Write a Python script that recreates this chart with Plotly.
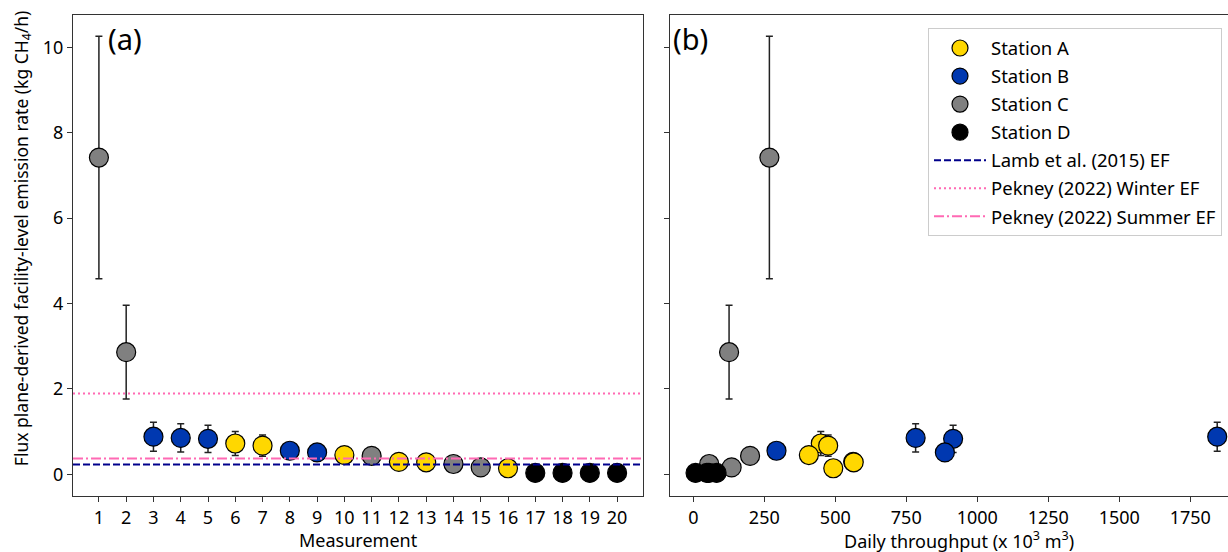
import plotly.graph_objects as go

# ---------------- data ----------------
measurement = list(range(1, 21))
station = ["C", "C", "B", "B", "B", "A", "A", "B", "B", "A",
           "C", "A", "A", "C", "C", "A", "D", "D", "D", "D"]
flux = [7.42, 2.86, 0.88, 0.85, 0.83, 0.72, 0.67, 0.55, 0.51, 0.45,
        0.43, 0.29, 0.28, 0.24, 0.16, 0.14, 0.03, 0.03, 0.03, 0.03]
flux_err = [2.84, 1.10, 0.34, 0.33, 0.32, 0.28, 0.25, 0.12, 0.20, 0.08,
            0.05, 0.08, 0.05, 0.05, 0.03, 0.03, 0.01, 0.01, 0.01, 0.01]
throughput = [268, 126, 1845, 783, 915, 449, 475, 293, 886, 407,
              200, 563, 565, 56, 135, 493, 8, 48, 55, 82]

station_names = ["A", "B", "C", "D"]
station_colors = {"A": "#FFD700", "B": "#0038B0", "C": "#808080", "D": "#000000"}

ef_names = ["Lamb et al. (2015) EF", "Pekney (2022) Winter EF", "Pekney (2022) Summer EF"]
ef_values = [0.23, 1.89, 0.37]
ef_colors = ["#00008B", "#FF69B4", "#FF69B4"]
ef_dash = ["7px,3px", "2px,3px", "10px,3px,2px,3px"]

x1_range = [0.05, 20.95]
x2_range = [-82, 1883]
y_range = [-0.51, 10.76]

FONT = "Noto Sans"
fig = go.Figure()

for s in station_names:
    idx = [i for i, st in enumerate(station) if st == s]
    common = dict(
        mode="markers",
        marker=dict(size=19, color=station_colors[s], line=dict(color="black", width=1.2)),
        name=f"Station {s}",
        legendgroup=f"st{s}",
    )
    err = dict(type="data", array=[flux_err[i] for i in idx], visible=True,
               color="#222222", thickness=1.5, width=3.5)
    fig.add_trace(go.Scatter(x=[measurement[i] for i in idx], y=[flux[i] for i in idx],
                             error_y=err, xaxis="x", yaxis="y", showlegend=True, **common))
    fig.add_trace(go.Scatter(x=[throughput[i] for i in idx], y=[flux[i] for i in idx],
                             error_y=err, xaxis="x2", yaxis="y2", showlegend=False, **common))

for name, v, c, d in zip(ef_names, ef_values, ef_colors, ef_dash):
    fig.add_trace(go.Scatter(x=x1_range, y=[v, v], mode="lines", name=name,
                             line=dict(color=c, width=2, dash=d), legendgroup=name,
                             xaxis="x", yaxis="y"))

axis_common = dict(showline=True, linecolor="#333333", linewidth=1.2, ticks="outside",
                   ticklen=5, tickwidth=1.2, tickcolor="#333333", showgrid=False,
                   zeroline=False, tickfont=dict(family=FONT, size=18, color="black"))

W, H = 1228, 552
fig.update_layout(
    width=W, height=H,
    margin=dict(l=0, r=0, t=15, b=56),
    plot_bgcolor="white", paper_bgcolor="white",
    font=dict(family=FONT, size=18, color="black"),
    xaxis=dict(domain=[73 / W, 643 / W], range=x1_range, tickvals=measurement,
               mirror=True, anchor="y", **axis_common),
    yaxis=dict(domain=[0, 1], range=y_range, tickvals=[0, 2, 4, 6, 8, 10],
               mirror=True, anchor="x", **axis_common),
    xaxis2=dict(domain=[670 / W, 1.0], range=x2_range,
                tickvals=[0, 250, 500, 750, 1000, 1250, 1500, 1750],
                mirror=True, anchor="y2", **axis_common),
    yaxis2=dict(domain=[0, 1], range=y_range, tickvals=[0, 2, 4, 6, 8, 10],
                showticklabels=False, mirror=False, anchor="x2", **axis_common),
    legend=dict(x=1222 / W, xanchor="right", y=0.972, yanchor="top",
                bgcolor="white", bordercolor="#CCCCCC", borderwidth=1,
                font=dict(family=FONT, size=18.5, color="black"),
                tracegroupgap=1, itemwidth=52, traceorder="grouped"),
    showlegend=True,
)

annos = [
    dict(text="(a)", x=106 / W, y=0.952, xanchor="left", yanchor="middle",
         font=dict(size=29, family=FONT)),
    dict(text="(b)", x=671 / W, y=0.952, xanchor="left", yanchor="middle",
         font=dict(size=29, family=FONT)),
    dict(text="Flux plane-derived facility-level emission rate (kg CH<sub>4</sub>/h)",
         x=22 / W, y=0.536, xanchor="center", yanchor="middle", textangle=-90,
         font=dict(size=17.5, family=FONT)),
    dict(text="Measurement", x=358 / W, y=-0.092, xanchor="center", yanchor="middle",
         font=dict(size=18, family=FONT)),
    dict(text="Daily throughput (x 10<sup>3</sup> m<sup>3</sup>)", x=959 / W, y=-0.092,
         xanchor="center", yanchor="middle", font=dict(size=18, family=FONT)),
]
for a in annos:
    fig.add_annotation(xref="paper", yref="paper", showarrow=False, **a)

fig.write_html("out.html", config={"displayModeBar": False},
               post_script="document.body.style.margin='0';document.body.style.overflow='hidden';")
